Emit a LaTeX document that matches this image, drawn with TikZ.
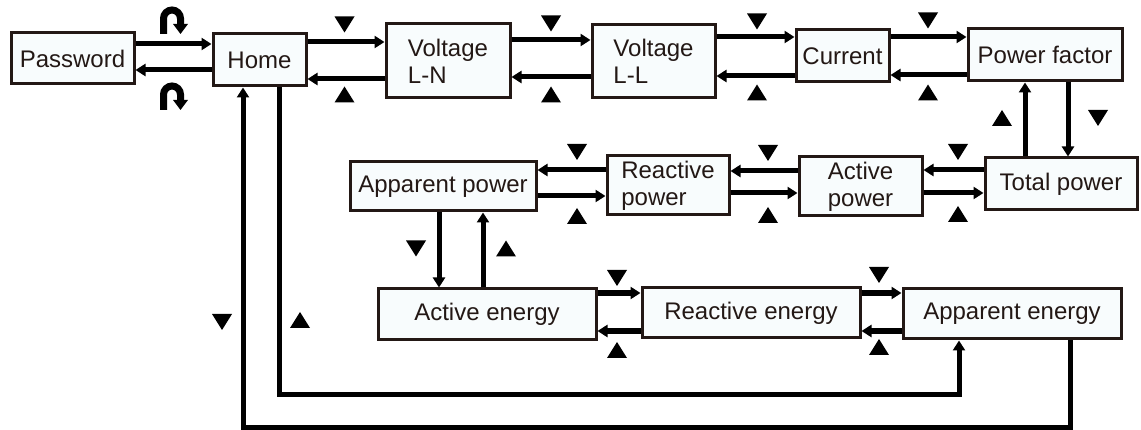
\documentclass[tikz,border=0pt]{standalone}
\usepackage{fontspec}
\setmainfont{Liberation Sans}
\usetikzlibrary{arrows.meta}
\definecolor{ink}{RGB}{35,24,21}
\definecolor{boxfill}{RGB}{248,252,253}
% small up / down marks beside the arrows
\newcommand\mdn[2]{\fill (#1-10,#2-8) -- ++(20,0) -- ++(-10,16) -- cycle;}
\newcommand\mup[2]{\fill (#1-10,#2+8) -- ++(20,0) -- ++(-10,-16) -- cycle;}
% turn-round sign, (#1,#2) is its upper left corner
\newcommand\uturn[2]{%
  \draw[line width=7pt] (#1+3.5,#2+27) -- (#1+3.5,#2+11.5)
    arc[start angle=180,end angle=360,radius=8.5] -- ++(0,6);
  \fill (#1+13,#2+17) -- ++(15,0) -- ++(-7.5,10) -- cycle;}
\begin{document}
\begin{tikzpicture}[x=1pt,y=-1pt,font=\fontsize{24}{27}\selectfont,
    box/.style={draw=ink,line width=3pt,fill=boxfill,text=ink,inner sep=0pt,align=center},
    twoline/.style={box,align=left},
    arr/.style={-{Triangle[length=10pt,width=12pt]},line width=5pt},
    arrb/.style={arr,line width=6pt}]
  \useasboundingbox (0,0) rectangle (1141,430);
  % first row
  \node[box,minimum width=123pt,minimum height=51pt] (pw) at (72.5,58.5) {Password};
  \node[box,minimum width=93pt,minimum height=52pt] (home) at (259.5,60) {Home};
  \node[twoline,minimum width=124pt,minimum height=74pt] (vln) at (448,61) {Voltage\\L-N};
  \node[twoline,minimum width=123pt,minimum height=73pt] (vll) at (653.5,61.5) {Voltage\\L-L};
  \node[box,minimum width=93pt,minimum height=52pt] (cur) at (842.5,56) {Current};
  \node[box,minimum width=154pt,minimum height=52pt] (pf) at (1045,55) {Power factor};
  % second row
  \node[box,minimum width=152pt,minimum height=52pt] (tot) at (1061,184) {Total power};
  \node[box,minimum width=123pt,minimum height=59pt] (actp) at (860.5,186.5) {Active\\power};
  \node[twoline,minimum width=122pt,minimum height=59pt] (reap) at (668,185.5) {Reactive\\power};
  \node[box,minimum width=186pt,minimum height=49pt] (appp) at (443,186.5) {Apparent power};
  % third row
  \node[box,minimum width=218pt,minimum height=51pt] (acte) at (487,314.5) {Active energy};
  \node[box,minimum width=218pt,minimum height=50pt] (reae) at (751,313) {Reactive energy};
  \node[box,minimum width=218pt,minimum height=50pt] (appe) at (1012,314) {Apparent energy};

  \draw[arr] (pw.east |- 0,44) -- (home.west |- 0,44);
  \draw[arr] (home.west |- 0,70) -- (pw.east |- 0,70);
  \draw[arr] (home.east |- 0,42) -- (vln.west |- 0,42);
  \draw[arr] (vln.west |- 0,79) -- (home.east |- 0,79);
  \draw[arr] (vln.east |- 0,40) -- (vll.west |- 0,40);
  \draw[arr] (vll.west |- 0,77) -- (vln.east |- 0,77);
  \draw[arr] (vll.east |- 0,37) -- (cur.west |- 0,37);
  \draw[arr] (cur.west |- 0,76) -- (vll.east |- 0,76);
  \draw[arr] (cur.east |- 0,37) -- (pf.west |- 0,37);
  \draw[arr] (pf.west |- 0,75) -- (cur.east |- 0,75);
  \draw[arr] (pf.south -| 1068,0) -- (tot.north -| 1068,0);
  \draw[arr] (tot.north -| 1025,0) -- (pf.south -| 1025,0);
  \draw[arr] (tot.west |- 0,170) -- (actp.east |- 0,170);
  \draw[arr] (actp.east |- 0,193) -- (tot.west |- 0,193);
  \draw[arr] (actp.west |- 0,171) -- (reap.east |- 0,171);
  \draw[arr] (reap.east |- 0,193) -- (actp.west |- 0,193);
  \draw[arr] (reap.west |- 0,170) -- (appp.east |- 0,170);
  \draw[arr] (appp.east |- 0,196) -- (reap.west |- 0,196);
  \draw[arr] (appp.south -| 439,0) -- (acte.north -| 439,0);
  \draw[arr] (acte.north -| 483,0) -- (appp.south -| 483,0);
  \draw[arrb] (acte.east |- 0,293) -- (reae.west |- 0,293);
  \draw[arrb] (reae.west |- 0,331) -- (acte.east |- 0,331);
  \draw[arrb] (reae.east |- 0,293) -- (appe.west |- 0,293);
  \draw[arrb] (appe.west |- 0,331) -- (reae.east |- 0,331);
  \draw[arr] (home.south -| 279,0) |- (959,394) -- (appe.south -| 959,0);
  \draw[arr] (appe.south -| 1070,0) |- (243,427) -- (home.south -| 243,0);

  \uturn{160}{7}
  \uturn{160}{83}
  \mdn{344.5}{24.5} \mup{344.5}{94.5}
  \mdn{551}{23.5} \mup{551}{94.5}
  \mdn{757}{21.5} \mup{757}{92.5}
  \mdn{928}{20.5} \mup{928}{92.5}
  \mup{1002}{118} \mdn{1098}{118}
  \mdn{958}{152} \mup{958}{214}
  \mdn{768}{153} \mup{768}{215}
  \mdn{577}{152} \mup{577}{216}
  \mdn{416}{248.5} \mup{506}{248.5}
  \mdn{617}{278} \mup{617}{350}
  \mdn{879}{275} \mup{879}{347}
  \mdn{222}{322} \mup{300}{320}
\end{tikzpicture}
\end{document}
